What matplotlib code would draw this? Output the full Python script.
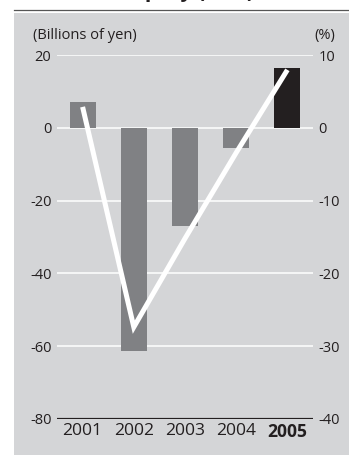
import matplotlib
matplotlib.use("Agg")
import matplotlib.pyplot as plt
from matplotlib.patches import Rectangle
from matplotlib.lines import Line2D

plt.rcParams['font.family'] = ['Open Sans', 'DejaVu Sans']

years = ["2001", "2002", "2003", "2004", "2005"]
net_income = [7.2, -61.5, -27.0, -5.4, 16.4]      # billions of yen (left axis)
roe = [2.9, -27.4, -15.2, -3.4, 8.0]              # % (right axis)
left_ticks = [20, 0, -20, -40, -60, -80]
right_ticks = [10, 0, -10, -20, -30, -40]

W, H = 349, 455
fig = plt.figure(figsize=(W / 100, H / 100), dpi=100)
fig.patch.set_facecolor("white")

panel = "#d4d5d7"
ink = "#231f20"
bar_grey = "#808184"

# background panel and rule under the heading
fig.add_artist(Rectangle((14 / W, 0), 1 - 14 / W, (H - 13) / H,
                         transform=fig.transFigure, facecolor=panel,
                         edgecolor="none", zorder=0))
fig.add_artist(Line2D([14 / W, 1], [(H - 10) / H] * 2, transform=fig.transFigure,
                      color="#555555", lw=0.9, zorder=1))
# heading sits above the top edge, only its lower part shows
fig.text(254 / W, (H + 2.5) / H, "Return on Equity (ROE)", ha="right",
         va="baseline", fontsize=15, fontweight="bold", color=ink)

ax = fig.add_axes([57 / W, 36.3 / H, 256 / W, 363.4 / H])
ax.set_facecolor("none")
for s in ax.spines.values():
    s.set_visible(False)

x = list(range(len(years)))
colors = [bar_grey] * (len(years) - 1) + [ink]
ax.bar(x, net_income, width=0.51, color=colors, zorder=2)

for t in left_ticks[:-1]:
    ax.axhline(t, color="white", lw=1.1, zorder=1)
ax.axhline(left_ticks[-1], color=ink, lw=2.3, zorder=3)

ax.set_xlim(-0.5, len(years) - 0.5)
ax.set_ylim(-80, 20)
ax.set_yticks(left_ticks)
ax.set_yticklabels([str(t) for t in left_ticks])
ax.set_xticks(x)
ax.set_xticklabels(years)
ax.tick_params(axis="y", length=0, pad=4, labelsize=10.5, labelcolor=ink)
ax.tick_params(axis="x", length=0, pad=3, labelsize=12.6, labelcolor=ink)
ax.get_xticklabels()[-1].set_fontweight("bold")

ax2 = ax.twinx()
for s in ax2.spines.values():
    s.set_visible(False)
ax2.set_ylim(-40, 10)
ax2.set_yticks(right_ticks)
ax2.set_yticklabels([str(t) for t in right_ticks])
ax2.tick_params(axis="y", length=0, pad=4, labelsize=10.5, labelcolor=ink)
ax2.plot(x, roe, color="white", lw=3.6, solid_capstyle="butt",
         solid_joinstyle="miter", zorder=4)

fig.text(33 / W, (H - 39) / H, "(Billions of yen)", ha="left", va="baseline",
         fontsize=10.5, color=ink)
fig.text(335 / W, (H - 39) / H, "(%)", ha="right", va="baseline",
         fontsize=10.5, color=ink)

fig.savefig("out.png", dpi=100, facecolor=fig.get_facecolor())
